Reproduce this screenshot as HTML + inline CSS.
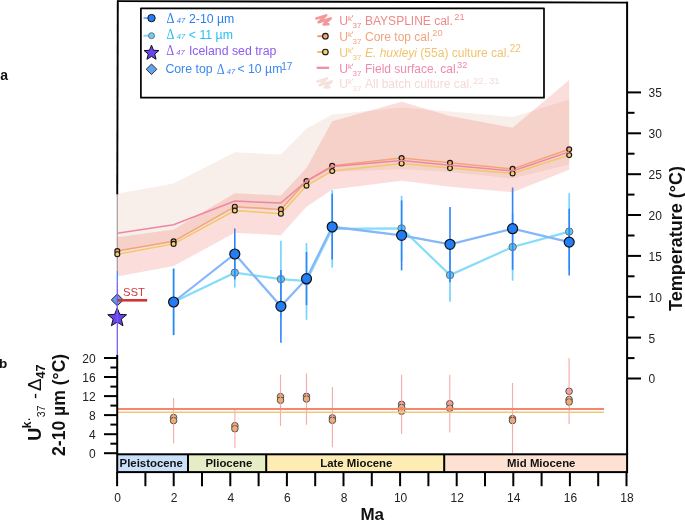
<!DOCTYPE html><html><head><meta charset="utf-8"><style>html,body{margin:0;padding:0;background:#fff;}svg{display:block;will-change:transform;}text{font-family:"Liberation Sans",sans-serif;}</style></head><body>
<svg width="685" height="521" viewBox="0 0 685 521">
<polygon points="117.3,193.7 173.6,183.4 234.8,152.3 280.9,154.6 306.5,128.4 332.2,114.6 401.6,107.5 450.0,111.5 512.6,117.0 569.2,99.5 569.2,164.5 512.6,178.5 450.0,172.0 401.6,169.2 332.2,172.0 306.5,183.0 280.9,210.5 234.8,208.0 173.6,242.0 117.3,251.5" fill="#f8efea"/>
<line x1="117.8" y1="0.5" x2="117.25" y2="194.4" stroke="#000" stroke-width="1.9"/>
<line x1="117.3" y1="194.4" x2="117.3" y2="271" stroke="#a9a4a4" stroke-width="1.3"/>
<line x1="117.3" y1="271" x2="117.3" y2="281.5" stroke="#3f86f2" stroke-width="1.3"/>
<polyline points="173.6,302.0 234.8,272.7 280.9,279.1 306.5,281.0 332.2,228.8 401.6,228.4 450.0,275.1 512.6,247.0 569.2,231.6" fill="none" stroke="#86dcfb" stroke-width="2.2"/>
<polyline points="173.6,302.0 234.8,254.0 280.9,306.3 306.5,278.7 332.2,226.8 401.6,235.3 450.0,244.3 512.6,228.7 569.2,242.1" fill="none" stroke="#84b6fa" stroke-width="2.2"/>
<line x1="173.6" y1="268.0" x2="173.6" y2="335.0" stroke="#78d4fb" stroke-width="1.7"/>
<line x1="234.8" y1="257.8" x2="234.8" y2="287.6" stroke="#78d4fb" stroke-width="1.7"/>
<line x1="280.9" y1="240.8" x2="280.9" y2="317.4" stroke="#78d4fb" stroke-width="1.7"/>
<line x1="306.5" y1="243.1" x2="306.5" y2="319.8" stroke="#78d4fb" stroke-width="1.7"/>
<line x1="332.2" y1="190.0" x2="332.2" y2="267.6" stroke="#78d4fb" stroke-width="1.7"/>
<line x1="401.6" y1="195.8" x2="401.6" y2="261.0" stroke="#78d4fb" stroke-width="1.7"/>
<line x1="450.0" y1="248.4" x2="450.0" y2="301.8" stroke="#78d4fb" stroke-width="1.7"/>
<line x1="512.6" y1="213.3" x2="512.6" y2="280.7" stroke="#78d4fb" stroke-width="1.7"/>
<line x1="569.2" y1="193.2" x2="569.2" y2="270.0" stroke="#78d4fb" stroke-width="1.7"/>
<circle cx="234.8" cy="272.7" r="3.7" fill="#5cc6f8" stroke="#6b6b6b" stroke-width="1"/>
<circle cx="280.9" cy="279.1" r="3.7" fill="#5cc6f8" stroke="#6b6b6b" stroke-width="1"/>
<circle cx="306.5" cy="281.0" r="3.7" fill="#5cc6f8" stroke="#6b6b6b" stroke-width="1"/>
<circle cx="332.2" cy="228.8" r="3.7" fill="#5cc6f8" stroke="#6b6b6b" stroke-width="1"/>
<circle cx="401.6" cy="228.4" r="3.7" fill="#5cc6f8" stroke="#6b6b6b" stroke-width="1"/>
<circle cx="450.0" cy="275.1" r="3.7" fill="#5cc6f8" stroke="#6b6b6b" stroke-width="1"/>
<circle cx="512.6" cy="247.0" r="3.7" fill="#5cc6f8" stroke="#6b6b6b" stroke-width="1"/>
<circle cx="569.2" cy="231.6" r="3.7" fill="#5cc6f8" stroke="#6b6b6b" stroke-width="1"/>
<line x1="173.6" y1="268.9" x2="173.6" y2="335.1" stroke="#2d85f8" stroke-width="1.6"/>
<line x1="234.8" y1="228.6" x2="234.8" y2="279.6" stroke="#2d85f8" stroke-width="1.6"/>
<line x1="280.9" y1="270.0" x2="280.9" y2="342.8" stroke="#2d85f8" stroke-width="1.6"/>
<line x1="306.5" y1="252.0" x2="306.5" y2="305.2" stroke="#2d85f8" stroke-width="1.6"/>
<line x1="332.2" y1="193.8" x2="332.2" y2="259.6" stroke="#2d85f8" stroke-width="1.6"/>
<line x1="401.6" y1="200.4" x2="401.6" y2="270.4" stroke="#2d85f8" stroke-width="1.6"/>
<line x1="450.0" y1="207.1" x2="450.0" y2="282.3" stroke="#2d85f8" stroke-width="1.6"/>
<line x1="512.6" y1="187.5" x2="512.6" y2="269.8" stroke="#2d85f8" stroke-width="1.6"/>
<line x1="569.2" y1="208.8" x2="569.2" y2="275.5" stroke="#2d85f8" stroke-width="1.6"/>
<circle cx="173.6" cy="302.0" r="5.0" fill="#237df5" stroke="#111" stroke-width="1.2"/>
<circle cx="234.8" cy="254.0" r="5.0" fill="#237df5" stroke="#111" stroke-width="1.2"/>
<circle cx="280.9" cy="306.3" r="5.0" fill="#237df5" stroke="#111" stroke-width="1.2"/>
<circle cx="306.5" cy="278.7" r="5.0" fill="#237df5" stroke="#111" stroke-width="1.2"/>
<circle cx="332.2" cy="226.8" r="5.0" fill="#237df5" stroke="#111" stroke-width="1.2"/>
<circle cx="401.6" cy="235.3" r="5.0" fill="#237df5" stroke="#111" stroke-width="1.2"/>
<circle cx="450.0" cy="244.3" r="5.0" fill="#237df5" stroke="#111" stroke-width="1.2"/>
<circle cx="512.6" cy="228.7" r="5.0" fill="#237df5" stroke="#111" stroke-width="1.2"/>
<circle cx="569.2" cy="242.1" r="5.0" fill="#237df5" stroke="#111" stroke-width="1.2"/>
<polygon points="117.3,237.3 173.6,229.5 234.8,193.2 280.9,195.6 306.5,168.0 332.2,121.2 401.6,101.7 450.0,116.0 512.6,127.8 569.2,80.0 569.2,169.8 512.6,192.2 450.0,186.8 401.6,180.8 332.2,189.6 306.5,206.8 280.9,235.3 234.8,232.8 173.6,266.0 117.3,276.6" fill="rgb(237,105,91)" fill-opacity="0.22"/>
<polyline points="117.3,251.1 173.6,241.3 234.8,206.7 280.9,209.4 306.5,181.1 332.2,165.8 401.6,158.0 450.0,162.8 512.6,168.9 569.2,149.3" fill="none" stroke="#f3a578" stroke-width="1.5"/>
<polyline points="117.3,254.2 173.6,243.9 234.8,210.5 280.9,213.7 306.5,185.7 332.2,171.0 401.6,163.4 450.0,168.1 512.6,173.5 569.2,155.1" fill="none" stroke="#f0c868" stroke-width="1.5"/>
<circle cx="117.3" cy="251.1" r="2.45" fill="#f4a672" stroke="#1a1a1a" stroke-width="1.2"/>
<circle cx="117.3" cy="254.2" r="2.45" fill="#f5cf6e" stroke="#1a1a1a" stroke-width="1.2"/>
<circle cx="173.6" cy="241.3" r="2.45" fill="#f4a672" stroke="#1a1a1a" stroke-width="1.2"/>
<circle cx="173.6" cy="243.9" r="2.45" fill="#f5cf6e" stroke="#1a1a1a" stroke-width="1.2"/>
<circle cx="234.8" cy="206.7" r="2.45" fill="#f4a672" stroke="#1a1a1a" stroke-width="1.2"/>
<circle cx="234.8" cy="210.5" r="2.45" fill="#f5cf6e" stroke="#1a1a1a" stroke-width="1.2"/>
<circle cx="280.9" cy="209.4" r="2.45" fill="#f4a672" stroke="#1a1a1a" stroke-width="1.2"/>
<circle cx="280.9" cy="213.7" r="2.45" fill="#f5cf6e" stroke="#1a1a1a" stroke-width="1.2"/>
<circle cx="306.5" cy="181.1" r="2.45" fill="#f4a672" stroke="#1a1a1a" stroke-width="1.2"/>
<circle cx="306.5" cy="185.7" r="2.45" fill="#f5cf6e" stroke="#1a1a1a" stroke-width="1.2"/>
<circle cx="332.2" cy="165.8" r="2.45" fill="#f4a672" stroke="#1a1a1a" stroke-width="1.2"/>
<circle cx="332.2" cy="171.0" r="2.45" fill="#f5cf6e" stroke="#1a1a1a" stroke-width="1.2"/>
<circle cx="401.6" cy="158.0" r="2.45" fill="#f4a672" stroke="#1a1a1a" stroke-width="1.2"/>
<circle cx="401.6" cy="163.4" r="2.45" fill="#f5cf6e" stroke="#1a1a1a" stroke-width="1.2"/>
<circle cx="450.0" cy="162.8" r="2.45" fill="#f4a672" stroke="#1a1a1a" stroke-width="1.2"/>
<circle cx="450.0" cy="168.1" r="2.45" fill="#f5cf6e" stroke="#1a1a1a" stroke-width="1.2"/>
<circle cx="512.6" cy="168.9" r="2.45" fill="#f4a672" stroke="#1a1a1a" stroke-width="1.2"/>
<circle cx="512.6" cy="173.5" r="2.45" fill="#f5cf6e" stroke="#1a1a1a" stroke-width="1.2"/>
<circle cx="569.2" cy="149.3" r="2.45" fill="#f4a672" stroke="#1a1a1a" stroke-width="1.2"/>
<circle cx="569.2" cy="155.1" r="2.45" fill="#f5cf6e" stroke="#1a1a1a" stroke-width="1.2"/>
<polyline points="117.3,233.2 173.6,224.8 234.8,201.1 280.9,203.0 306.5,181.0 332.2,166.5 401.6,160.5 450.0,165.2 512.6,171.0 569.2,151.9" fill="none" stroke="#ef86a0" stroke-width="1.5"/>
<polygon points="117.3,294 123.3,299.9 117.3,305.8 111.3,299.9" fill="#5d9cf2" stroke="#222" stroke-width="1"/>
<polygon points="117.20,307.90 119.73,314.32 126.62,314.74 121.29,319.13 123.02,325.81 117.20,322.10 111.38,325.81 113.11,319.13 107.78,314.74 114.67,314.32" fill="#6b44f2" stroke="#111" stroke-width="1"/>
<line x1="117.3" y1="281.5" x2="117.3" y2="355" stroke="#7c5cf5" stroke-width="1.3"/>
<line x1="117.3" y1="300.3" x2="147.2" y2="300.3" stroke="#cf3535" stroke-width="2.6"/>
<text x="122.9" y="296.4" font-size="11.3" fill="#cf3b3b">SST</text>
<circle cx="173.6" cy="417.6" r="3.3" fill="#eeb26c" stroke="#505050" stroke-width="1"/>
<circle cx="173.6" cy="420.6" r="3.3" fill="#eeb26c" stroke="#505050" stroke-width="1"/>
<circle cx="234.9" cy="425.7" r="3.3" fill="#eeb26c" stroke="#505050" stroke-width="1"/>
<circle cx="234.9" cy="428.7" r="3.3" fill="#eeb26c" stroke="#505050" stroke-width="1"/>
<circle cx="280.5" cy="396.7" r="3.3" fill="#eeb26c" stroke="#505050" stroke-width="1"/>
<circle cx="280.5" cy="400.2" r="3.3" fill="#eeb26c" stroke="#505050" stroke-width="1"/>
<circle cx="306.5" cy="396.4" r="3.3" fill="#f0a29a" stroke="#505050" stroke-width="1"/>
<circle cx="306.5" cy="399.0" r="3.3" fill="#eeb26c" stroke="#505050" stroke-width="1"/>
<circle cx="332.4" cy="417.9" r="3.3" fill="#f0a29a" stroke="#505050" stroke-width="1"/>
<circle cx="332.4" cy="420.3" r="3.3" fill="#eeb26c" stroke="#505050" stroke-width="1"/>
<circle cx="401.6" cy="404.4" r="3.3" fill="#f0a29a" stroke="#505050" stroke-width="1"/>
<circle cx="401.6" cy="407.5" r="3.3" fill="#eeb26c" stroke="#505050" stroke-width="1"/>
<circle cx="401.6" cy="411.2" r="3.3" fill="#f0c474" stroke="#505050" stroke-width="1"/>
<circle cx="449.8" cy="403.7" r="3.3" fill="#f0a29a" stroke="#505050" stroke-width="1"/>
<circle cx="449.8" cy="408.3" r="3.3" fill="#eeb26c" stroke="#505050" stroke-width="1"/>
<circle cx="512.5" cy="418.7" r="3.3" fill="#f0a29a" stroke="#505050" stroke-width="1"/>
<circle cx="512.5" cy="420.5" r="3.3" fill="#eeb26c" stroke="#505050" stroke-width="1"/>
<circle cx="569.1" cy="391.3" r="3.3" fill="#f4a4a4" stroke="#505050" stroke-width="1"/>
<circle cx="569.1" cy="399.5" r="3.3" fill="#eeb26c" stroke="#505050" stroke-width="1"/>
<circle cx="569.1" cy="402.0" r="3.3" fill="#eeb26c" stroke="#505050" stroke-width="1"/>
<line x1="173.6" y1="398.1" x2="173.6" y2="443.6" stroke="#f59a9a" stroke-width="1.1" opacity="0.85"/>
<line x1="234.9" y1="409.4" x2="234.9" y2="448.0" stroke="#f59a9a" stroke-width="1.1" opacity="0.85"/>
<line x1="280.5" y1="374.8" x2="280.5" y2="425.9" stroke="#f59a9a" stroke-width="1.1" opacity="0.85"/>
<line x1="306.5" y1="373.3" x2="306.5" y2="424.8" stroke="#f59a9a" stroke-width="1.1" opacity="0.85"/>
<line x1="332.4" y1="387.0" x2="332.4" y2="447.2" stroke="#f59a9a" stroke-width="1.1" opacity="0.85"/>
<line x1="401.6" y1="374.8" x2="401.6" y2="433.9" stroke="#f59a9a" stroke-width="1.1" opacity="0.85"/>
<line x1="449.8" y1="374.8" x2="449.8" y2="432.6" stroke="#f59a9a" stroke-width="1.1" opacity="0.85"/>
<line x1="512.5" y1="383.0" x2="512.5" y2="453.0" stroke="#f59a9a" stroke-width="1.1" opacity="0.85"/>
<line x1="569.1" y1="358.1" x2="569.1" y2="424.0" stroke="#f59a9a" stroke-width="1.1" opacity="0.85"/>
<line x1="117.5" y1="409.0" x2="604" y2="409.0" stroke="#f08773" stroke-width="1.8"/>
<line x1="117.5" y1="412.3" x2="604" y2="412.3" stroke="#f2c878" stroke-width="1.5"/>
<line x1="117.2" y1="355" x2="117.2" y2="454" stroke="#000" stroke-width="2"/>
<line x1="104.0" y1="453.2" x2="117.2" y2="453.2" stroke="#000" stroke-width="2"/>
<text x="95.6" y="458.2" font-size="12" text-anchor="end" fill="#222">0</text>
<line x1="110.4" y1="443.7" x2="117.2" y2="443.7" stroke="#000" stroke-width="2"/>
<line x1="104.0" y1="434.2" x2="117.2" y2="434.2" stroke="#000" stroke-width="2"/>
<text x="95.6" y="439.2" font-size="12" text-anchor="end" fill="#222">4</text>
<line x1="110.4" y1="424.6" x2="117.2" y2="424.6" stroke="#000" stroke-width="2"/>
<line x1="104.0" y1="415.1" x2="117.2" y2="415.1" stroke="#000" stroke-width="2"/>
<text x="95.6" y="420.1" font-size="12" text-anchor="end" fill="#222">8</text>
<line x1="110.4" y1="405.6" x2="117.2" y2="405.6" stroke="#000" stroke-width="2"/>
<line x1="104.0" y1="396.1" x2="117.2" y2="396.1" stroke="#000" stroke-width="2"/>
<text x="95.6" y="401.1" font-size="12" text-anchor="end" fill="#222">12</text>
<line x1="110.4" y1="386.6" x2="117.2" y2="386.6" stroke="#000" stroke-width="2"/>
<line x1="104.0" y1="377.0" x2="117.2" y2="377.0" stroke="#000" stroke-width="2"/>
<text x="95.6" y="382.0" font-size="12" text-anchor="end" fill="#222">16</text>
<line x1="110.4" y1="367.5" x2="117.2" y2="367.5" stroke="#000" stroke-width="2"/>
<line x1="104.0" y1="358.0" x2="117.2" y2="358.0" stroke="#000" stroke-width="2"/>
<text x="95.6" y="363.0" font-size="12" text-anchor="end" fill="#222">20</text>
<line x1="117" y1="1.1" x2="627.8" y2="2.6" stroke="#000" stroke-width="1.8"/>
<line x1="627.1" y1="1.8" x2="627.1" y2="455" stroke="#000" stroke-width="2"/>
<line x1="627" y1="378.5" x2="641" y2="378.5" stroke="#000" stroke-width="2"/>
<text x="648.6" y="383.4" font-size="12" fill="#222">0</text>
<line x1="627" y1="358.1" x2="634.5" y2="358.1" stroke="#000" stroke-width="2"/>
<line x1="627" y1="337.6" x2="641" y2="337.6" stroke="#000" stroke-width="2"/>
<text x="648.6" y="342.5" font-size="12" fill="#222">5</text>
<line x1="627" y1="317.2" x2="634.5" y2="317.2" stroke="#000" stroke-width="2"/>
<line x1="627" y1="296.8" x2="641" y2="296.8" stroke="#000" stroke-width="2"/>
<text x="648.6" y="301.7" font-size="12" fill="#222">10</text>
<line x1="627" y1="276.3" x2="634.5" y2="276.3" stroke="#000" stroke-width="2"/>
<line x1="627" y1="255.9" x2="641" y2="255.9" stroke="#000" stroke-width="2"/>
<text x="648.6" y="260.8" font-size="12" fill="#222">15</text>
<line x1="627" y1="235.5" x2="634.5" y2="235.5" stroke="#000" stroke-width="2"/>
<line x1="627" y1="215.0" x2="641" y2="215.0" stroke="#000" stroke-width="2"/>
<text x="648.6" y="219.9" font-size="12" fill="#222">20</text>
<line x1="627" y1="194.6" x2="634.5" y2="194.6" stroke="#000" stroke-width="2"/>
<line x1="627" y1="174.2" x2="641" y2="174.2" stroke="#000" stroke-width="2"/>
<text x="648.6" y="179.1" font-size="12" fill="#222">25</text>
<line x1="627" y1="153.7" x2="634.5" y2="153.7" stroke="#000" stroke-width="2"/>
<line x1="627" y1="133.3" x2="641" y2="133.3" stroke="#000" stroke-width="2"/>
<text x="648.6" y="138.2" font-size="12" fill="#222">30</text>
<line x1="627" y1="112.8" x2="634.5" y2="112.8" stroke="#000" stroke-width="2"/>
<line x1="627" y1="92.4" x2="641" y2="92.4" stroke="#000" stroke-width="2"/>
<text x="648.6" y="97.3" font-size="12" fill="#222">35</text>
<rect x="117.2" y="454.3" width="70.8" height="17.8" fill="#c9e0f8"/>
<text x="151.2" y="466.9" font-size="11.4" font-weight="bold" text-anchor="middle" fill="#111">Pleistocene</text>
<rect x="188.0" y="454.3" width="78.2" height="17.8" fill="#e6edc6"/>
<text x="228.9" y="466.9" font-size="11.4" font-weight="bold" text-anchor="middle" fill="#111">Pliocene</text>
<rect x="266.2" y="454.3" width="178.0" height="17.8" fill="#fdedb5"/>
<text x="356.3" y="466.9" font-size="11.4" font-weight="bold" text-anchor="middle" fill="#111">Late Miocene</text>
<rect x="444.2" y="454.3" width="182.3" height="17.8" fill="#fde2d3"/>
<text x="541.3" y="466.9" font-size="11.4" font-weight="bold" text-anchor="middle" fill="#111">Mid Miocene</text>
<rect x="117.2" y="454.3" width="509.9" height="17.8" fill="none" stroke="#000" stroke-width="2"/>
<line x1="188.0" y1="454.3" x2="188.0" y2="472.1" stroke="#000" stroke-width="2"/>
<line x1="266.2" y1="454.3" x2="266.2" y2="472.1" stroke="#000" stroke-width="2"/>
<line x1="444.2" y1="454.3" x2="444.2" y2="472.1" stroke="#000" stroke-width="2"/>
<line x1="117.1" y1="472" x2="117.1" y2="486.2" stroke="#000" stroke-width="2"/>
<text x="117.6" y="501.9" font-size="12" text-anchor="middle" fill="#222">0</text>
<line x1="145.4" y1="472" x2="145.4" y2="486.2" stroke="#000" stroke-width="2"/>
<line x1="173.7" y1="472" x2="173.7" y2="486.2" stroke="#000" stroke-width="2"/>
<text x="174.2" y="501.9" font-size="12" text-anchor="middle" fill="#222">2</text>
<line x1="202.0" y1="472" x2="202.0" y2="486.2" stroke="#000" stroke-width="2"/>
<line x1="230.3" y1="472" x2="230.3" y2="486.2" stroke="#000" stroke-width="2"/>
<text x="230.8" y="501.9" font-size="12" text-anchor="middle" fill="#222">4</text>
<line x1="258.6" y1="472" x2="258.6" y2="486.2" stroke="#000" stroke-width="2"/>
<line x1="286.9" y1="472" x2="286.9" y2="486.2" stroke="#000" stroke-width="2"/>
<text x="287.4" y="501.9" font-size="12" text-anchor="middle" fill="#222">6</text>
<line x1="315.2" y1="472" x2="315.2" y2="486.2" stroke="#000" stroke-width="2"/>
<line x1="343.5" y1="472" x2="343.5" y2="486.2" stroke="#000" stroke-width="2"/>
<text x="344.0" y="501.9" font-size="12" text-anchor="middle" fill="#222">8</text>
<line x1="371.8" y1="472" x2="371.8" y2="486.2" stroke="#000" stroke-width="2"/>
<line x1="400.1" y1="472" x2="400.1" y2="486.2" stroke="#000" stroke-width="2"/>
<text x="400.6" y="501.9" font-size="12" text-anchor="middle" fill="#222">10</text>
<line x1="428.4" y1="472" x2="428.4" y2="486.2" stroke="#000" stroke-width="2"/>
<line x1="456.7" y1="472" x2="456.7" y2="486.2" stroke="#000" stroke-width="2"/>
<text x="457.2" y="501.9" font-size="12" text-anchor="middle" fill="#222">12</text>
<line x1="485.0" y1="472" x2="485.0" y2="486.2" stroke="#000" stroke-width="2"/>
<line x1="513.3" y1="472" x2="513.3" y2="486.2" stroke="#000" stroke-width="2"/>
<text x="513.8" y="501.9" font-size="12" text-anchor="middle" fill="#222">14</text>
<line x1="541.6" y1="472" x2="541.6" y2="486.2" stroke="#000" stroke-width="2"/>
<line x1="569.9" y1="472" x2="569.9" y2="486.2" stroke="#000" stroke-width="2"/>
<text x="570.4" y="501.9" font-size="12" text-anchor="middle" fill="#222">16</text>
<line x1="598.2" y1="472" x2="598.2" y2="486.2" stroke="#000" stroke-width="2"/>
<line x1="626.5" y1="472" x2="626.5" y2="486.2" stroke="#000" stroke-width="2"/>
<text x="627.0" y="501.9" font-size="12" text-anchor="middle" fill="#222">18</text>
<text x="372.2" y="520.3" font-size="17" font-weight="bold" text-anchor="middle" fill="#111">Ma</text>
<text transform="translate(682.2,238.5) rotate(-90)" font-size="18" font-weight="bold" text-anchor="middle" fill="#111">Temperature (°C)</text>
<text transform="translate(64.6,404.9) rotate(-90)" font-size="17.6" font-weight="bold" text-anchor="middle" fill="#111">2-10 µm (°C)</text>
<g transform="translate(40.9,440.8) rotate(-90)"><text x="0" y="0" font-size="18" font-weight="bold" fill="#111">U</text><text x="12.6" y="-10.0" font-size="12" font-weight="bold" fill="#111">k</text><text x="20.0" y="-11.0" font-size="10" font-weight="bold" fill="#111">.</text><text x="23.6" y="4.2" font-size="10.5" fill="#111">37</text><text x="41.8" y="0" font-size="18" fill="#111">-</text><text x="49.8" y="0" font-size="19" fill="#111">Δ</text><text x="62.4" y="3.9" font-size="12.5" font-weight="bold" fill="#111">47</text></g>
<text x="0.2" y="79.8" font-size="14" font-weight="bold" fill="#111">a</text>
<text x="-1.0" y="367.6" font-size="13.5" font-weight="bold" fill="#111">b</text>
<rect x="140.9" y="8.3" width="403.1" height="89.4" fill="#fff" stroke="#000" stroke-width="1.7" stroke-linejoin="round"/>
<line x1="143.5" y1="18.1" x2="150" y2="18.1" stroke="#78b4f8" stroke-width="2"/>
<circle cx="151.5" cy="18.1" r="3.7" fill="#237df5" stroke="#111" stroke-width="1"/>
<text transform="translate(166.6,23.2) scale(0.8,1)" font-size="15.5" fill="#2a7ef2" style="font-family:'Liberation Serif',serif">Δ</text><text x="176.7" y="23.0" font-size="7.6" font-style="italic" fill="#2a7ef2">47</text>
<text x="189.0" y="22.8" font-size="12.3" fill="#2a7ef2">2-10 µm</text>
<line x1="143.5" y1="35.7" x2="150" y2="35.7" stroke="#84d6fa" stroke-width="2"/>
<circle cx="151.5" cy="35.7" r="3" fill="#6ccdf8" stroke="#666" stroke-width="0.9"/>
<text transform="translate(166.6,39.3) scale(0.8,1)" font-size="15.5" fill="#22bff3" style="font-family:'Liberation Serif',serif">Δ</text><text x="176.7" y="39.1" font-size="7.6" font-style="italic" fill="#22bff3">47</text>
<text x="188.8" y="38.9" font-size="12.3" fill="#22bff3">&lt; 11 µm</text>
<polygon points="151.50,45.20 153.50,50.25 158.92,50.59 154.73,54.05 156.08,59.31 151.50,56.40 146.92,59.31 148.27,54.05 144.08,50.59 149.50,50.25" fill="#6b44f2" stroke="#111" stroke-width="1"/>
<text transform="translate(166.2,55.4) scale(0.8,1)" font-size="15.5" fill="#8c5cf0" style="font-family:'Liberation Serif',serif">Δ</text><text x="176.3" y="55.2" font-size="7.6" font-style="italic" fill="#8c5cf0">47</text>
<text x="188.9" y="55.0" font-size="12.3" fill="#8c5cf0">Iceland sed trap</text>
<polygon points="151.5,64 156.8,69.3 151.5,74.6 146.2,69.3" fill="#64a2f2" stroke="#333" stroke-width="1"/>
<text x="165.4" y="73.3" font-size="12.3" fill="#3a88f0">Core top</text>
<text transform="translate(216.7,73.7) scale(0.8,1)" font-size="15.5" fill="#3a88f0" style="font-family:'Liberation Serif',serif">Δ</text><text x="226.8" y="73.5" font-size="7.6" font-style="italic" fill="#3a88f0">47</text>
<text x="237.4" y="73.3" font-size="12.3" fill="#3a88f0">&lt; 10 µm</text>
<text x="281.2" y="69.8" font-size="10" fill="#3a88f0">17</text>
<text x="339.3" y="24.6" font-size="12.2" fill="#f08888">U</text><text x="347.9" y="20.8" font-size="7.8" fill="#f08888">k</text><line x1="352.7" y1="15.2" x2="352.3" y2="17.2" stroke="#f08888" stroke-width="0.9"/><text x="352.5" y="27.6" font-size="8" fill="#f08888">37</text>
<text x="365.0" y="24.6" font-size="12.0" fill="#f08888">BAYSPLINE cal.</text>
<text x="454.3" y="20.3" font-size="9.2" fill="#f08888">21</text>
<text x="339.3" y="40.8" font-size="12.2" fill="#f0a47c">U</text><text x="347.9" y="37.0" font-size="7.8" fill="#f0a47c">k</text><line x1="352.7" y1="31.4" x2="352.3" y2="33.4" stroke="#f0a47c" stroke-width="0.9"/><text x="352.5" y="43.8" font-size="8" fill="#f0a47c">37</text>
<text x="365.0" y="40.8" font-size="12.0" fill="#f0a47c">Core top cal.</text>
<text x="432.3" y="35.5" font-size="9.2" fill="#f0a47c">20</text>
<text x="339.3" y="56.9" font-size="12.2" fill="#f0c470">U</text><text x="347.9" y="53.1" font-size="7.8" fill="#f0c470">k</text><line x1="352.7" y1="47.5" x2="352.3" y2="49.5" stroke="#f0c470" stroke-width="0.9"/><text x="352.5" y="59.9" font-size="8" fill="#f0c470">37</text>
<text x="365.0" y="56.9" font-size="12.0" fill="#f0c470"><tspan font-style="italic">E. huxleyi</tspan> (55a) culture cal.</text>
<text x="509.8" y="51.6" font-size="10" fill="#f0c470">22</text>
<text x="339.3" y="73.1" font-size="12.2" fill="#f08aaa">U</text><text x="347.9" y="69.3" font-size="7.8" fill="#f08aaa">k</text><line x1="352.7" y1="63.7" x2="352.3" y2="65.7" stroke="#f08aaa" stroke-width="0.9"/><text x="352.5" y="76.1" font-size="8" fill="#f08aaa">37</text>
<text x="365.0" y="73.1" font-size="12.0" fill="#f08aaa">Field surface. cal.</text>
<text x="457.0" y="67.8" font-size="9.3" fill="#f08aaa">32</text>
<text x="339.3" y="87.8" font-size="12.2" fill="#f6d8d8">U</text><text x="347.9" y="84.0" font-size="7.8" fill="#f6d8d8">k</text><line x1="352.7" y1="78.4" x2="352.3" y2="80.4" stroke="#f6d8d8" stroke-width="0.9"/><text x="352.5" y="90.8" font-size="8" fill="#f6d8d8">37</text>
<text x="365.0" y="87.8" font-size="12.0" fill="#f6d8d8">All batch culture cal.</text>
<text x="473.0" y="83.8" font-size="9.6" fill="#f6d8d8">22, 31</text>
<path d="M316.4,18.4 L326.2,15.4 L318.6,22.3 L330.6,18.4 L323.6,24.4 L328.4,24.2" stroke="#f29898" stroke-width="2.6" stroke-linecap="round" stroke-linejoin="round" fill="none"/>
<line x1="317.4" y1="36.2" x2="323" y2="36.2" stroke="#f29a70" stroke-width="2"/>
<circle cx="325.4" cy="36.2" r="2.8" fill="#f4a672" stroke="#111" stroke-width="1.1"/>
<line x1="317.4" y1="52" x2="323" y2="52" stroke="#f0c060" stroke-width="2"/>
<circle cx="325.4" cy="52" r="2.8" fill="#f5cf6e" stroke="#111" stroke-width="1.1"/>
<line x1="316.7" y1="67.8" x2="329.1" y2="67.8" stroke="#f08aaa" stroke-width="2.2"/>
<path d="M317.4,81.4 L327.2,78.4 L319.6,85.3 L331.6,81.4 L324.6,87.4 L329.4,87.2" stroke="#f5e2dc" stroke-width="2.6" stroke-linecap="round" stroke-linejoin="round" fill="none"/>
</svg></body></html>
